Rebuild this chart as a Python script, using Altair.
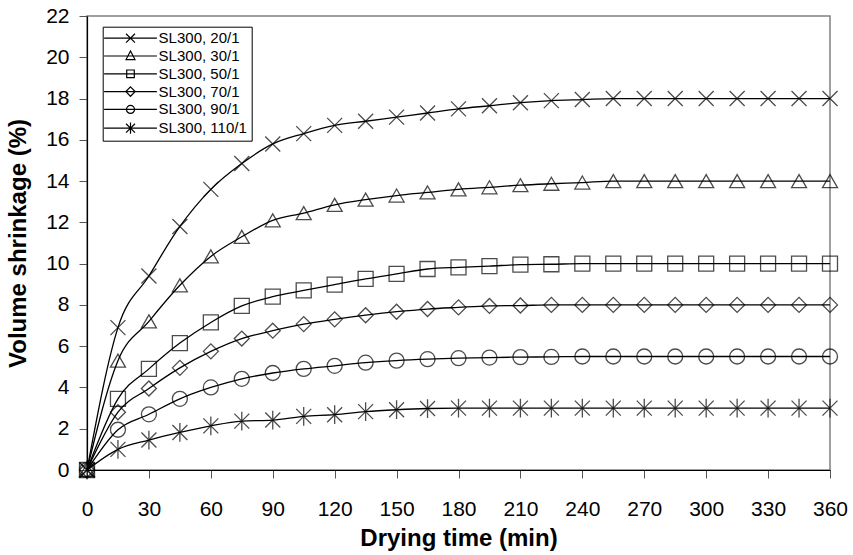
import altair as alt
import pandas as pd

# ---- data ----
times = [0, 15, 30, 45, 60, 75, 90, 105, 120, 135, 150, 165, 180,
         195, 210, 225, 240, 255, 270, 285, 300, 315, 330, 345, 360]

series_names = ["SL300, 20/1", "SL300, 30/1", "SL300, 50/1",
                "SL300, 70/1", "SL300, 90/1", "SL300, 110/1"]

s20 = [0, 6.9, 9.4, 11.8, 13.6, 14.85, 15.8, 16.3, 16.7, 16.9, 17.1, 17.3, 17.5,
       17.65, 17.8, 17.9, 17.95, 18.0, 18.0, 18.0, 18.0, 18.0, 18.0, 18.0, 18.0]
s30 = [0, 5.3, 7.2, 8.95, 10.35, 11.3, 12.1, 12.45, 12.85, 13.1, 13.3, 13.45, 13.6,
       13.7, 13.8, 13.87, 13.93, 14.0, 14.0, 14.0, 14.0, 14.0, 14.0, 14.0, 14.0]
s50 = [0, 3.45, 4.9, 6.15, 7.15, 7.95, 8.4, 8.7, 8.98, 9.26, 9.5, 9.74, 9.82,
       9.88, 9.95, 9.97, 10.0, 10.0, 10.0, 10.0, 10.0, 10.0, 10.0, 10.0, 10.0]
s70 = [0, 2.8, 3.95, 4.95, 5.75, 6.37, 6.75, 7.07, 7.3, 7.5, 7.67, 7.8, 7.88,
       7.95, 7.97, 8.0, 8.0, 8.0, 8.0, 8.0, 8.0, 8.0, 8.0, 8.0, 8.0]
s90 = [0, 1.95, 2.7, 3.45, 4.0, 4.42, 4.7, 4.9, 5.05, 5.2, 5.3, 5.37, 5.42,
       5.45, 5.47, 5.48, 5.5, 5.5, 5.5, 5.5, 5.5, 5.5, 5.5, 5.5, 5.5]
s110 = [0, 1.0, 1.45, 1.82, 2.14, 2.37, 2.42, 2.6, 2.68, 2.83, 2.92, 2.98, 3.0,
        3.0, 3.0, 3.0, 3.0, 3.0, 3.0, 3.0, 3.0, 3.0, 3.0, 3.0, 3.0]

x_ticks = [0, 30, 60, 90, 120, 150, 180, 210, 240, 270, 300, 330, 360]
y_ticks = [0, 2, 4, 6, 8, 10, 12, 14, 16, 18, 20, 22]

all_series = [s20, s30, s50, s70, s90, s110]
rows = []
for name, vals in zip(series_names, all_series):
    for t, v in zip(times, vals):
        rows.append({"time": t, "value": v, "series": name})
df = pd.DataFrame(rows)

# ---- marker shapes ----
plot_shapes = [
    "M-1,-1L1,1M-1,1L1,-1",
    "triangle-up",
    "square",
    "diamond",
    "circle",
    "M-1,-1L1,1M-1,1L1,-1M0,-1.25V1.25",
]
legend_shapes = [
    "M-5.9,0H5.9M-1,-1L1,1M-1,1L1,-1",
    "M-5.9,0H5.9M0,-1.1L1,0.8L-1,0.8Z",
    "M-5.9,0H5.9M-0.85,-0.85H0.85V0.85H-0.85Z",
    "M-5.9,0H5.9M0,-1.05L1.05,0L0,1.05L-1.05,0Z",
    "M-5.9,0H5.9M-0.9,0A0.9,0.9,0,1,1,0.9,0A0.9,0.9,0,1,1,-0.9,0",
    "M-5.9,0H5.9M-1,-1L1,1M-1,1L1,-1M0,-1.25V1.25",
]

FONT = "Liberation Sans"

x_enc = alt.X(
    "time:Q",
    scale=alt.Scale(domain=[0, 360], nice=False, zero=False),
    axis=alt.Axis(
        values=x_ticks, title="Drying time (min)", grid=False, labelFlush=False,
        labelFont=FONT, labelFontSize=21, labelColor="black", labelPadding=20,
        titleFont=FONT, titleFontSize=24, titleFontWeight="bold", titleColor="black",
        titlePadding=7, tickSize=8, tickColor="#555555", tickWidth=1,
        domainColor="black", domainWidth=1.2,
    ),
)
y_enc = alt.Y(
    "value:Q",
    scale=alt.Scale(domain=[0, 22], nice=False),
    axis=alt.Axis(
        values=y_ticks, title="Volume shrinkage (%)", grid=False, labelFlush=False,
        labelFont=FONT, labelFontSize=21, labelColor="black", labelPadding=10,
        titleFont=FONT, titleFontSize=24, titleFontWeight="bold", titleColor="black",
        titlePadding=15, tickSize=8, tickColor="#555555", tickWidth=1,
        domainColor="black", domainWidth=1.2,
    ),
)

base = alt.Chart(df)

lines = base.mark_line(color="black", strokeWidth=1.3, interpolate="monotone").encode(
    x=x_enc, y=y_enc, detail="series:N"
)

points = base.mark_point(filled=False, color="black", size=225, strokeWidth=1.3).encode(
    x=x_enc, y=y_enc,
    shape=alt.Shape("series:N", scale=alt.Scale(domain=series_names, range=plot_shapes), legend=None),
)

legend_layer = base.transform_filter("datum.value < 0").mark_point(
    filled=False, color="black", size=80, strokeWidth=1.2
).encode(
    x=x_enc, y=y_enc,
    shape=alt.Shape(
        "series:N",
        scale=alt.Scale(domain=series_names, range=legend_shapes),
        legend=alt.Legend(
            title=None, orient="none", legendX=15.7, legendY=10.7,
            strokeColor="black", fillColor="white", padding=4, cornerRadius=0,
            labelFont=FONT, labelFontSize=15, labelColor="black", labelLimit=300,
            rowPadding=1.8, symbolOffset=16.3, labelOffset=20.6,
            symbolSize=80, symbolStrokeWidth=1.2, symbolStrokeColor="black",
            symbolFillColor="transparent", symbolOpacity=1,
        ),
    ),
)

chart = (
    alt.layer(lines, points, legend_layer)
    .resolve_scale(shape="independent")
    .properties(
        width=743, height=454,
        autosize=alt.AutoSizeParams(type="none"),
        padding={"left": 87, "top": 16, "right": 23, "bottom": 85},
        background="white",
    )
    .configure_view(stroke="#808080", strokeWidth=1.5)
)

chart.save("out.html", embed_options={"renderer": "svg", "actions": False})
